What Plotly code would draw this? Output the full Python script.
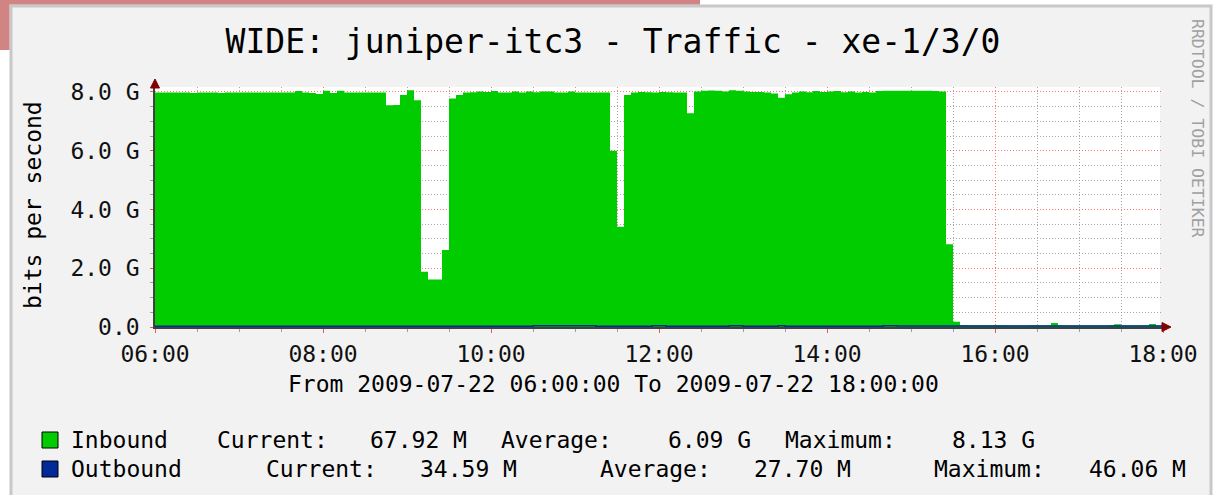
import plotly.graph_objects as go
import pandas as pd

# ---------------- data (Gbit/s, 5-minute steps from 06:00 to 18:00) ----------------
start_time = "2009-07-22 06:00"
end_time = "2009-07-22 18:00"
times = pd.date_range(start_time, end_time, freq="5min")

inbound = [
    7.98, 7.98, 7.98, 7.98, 7.98, 7.97, 7.98, 7.98, 7.98, 7.97,
    7.98, 7.98, 7.98, 7.98, 7.98, 7.98, 7.98, 7.98, 7.98, 7.98,
    8.03, 7.98, 7.97, 7.93, 8.04, 7.97, 8.04, 7.98, 7.98, 7.98,
    7.98, 7.98, 7.98, 7.55, 7.56, 7.90, 8.06, 7.72, 1.88, 1.62,
    1.62, 2.62, 7.78, 7.90, 7.98, 7.99, 8.02, 8.00, 8.03, 7.98,
    7.98, 8.02, 7.98, 8.02, 7.99, 8.02, 8.02, 7.98, 7.98, 8.02,
    7.98, 7.98, 7.98, 7.98, 7.98, 6.00, 3.41, 7.90, 7.98, 8.00,
    7.99, 7.98, 8.00, 7.99, 7.98, 7.98, 7.28, 8.02, 8.04, 8.05,
    8.04, 8.02, 8.06, 8.04, 8.02, 8.00, 8.00, 7.98, 7.95, 7.80,
    7.92, 7.98, 8.02, 7.99, 8.03, 8.00, 8.02, 8.03, 7.99, 8.02,
    7.98, 8.00, 7.98, 8.03, 8.04, 8.04, 8.04, 8.04, 8.04, 8.04,
    8.04, 8.03, 8.02, 2.82, 0.18, 0.07, 0.06, 0.06, 0.06, 0.06,
    0.06, 0.06, 0.05, 0.05, 0.05, 0.06, 0.06, 0.06, 0.14, 0.06,
    0.05, 0.05, 0.05, 0.05, 0.05, 0.05, 0.06, 0.09, 0.05, 0.05,
    0.05, 0.05, 0.10, 0.05, 0.07,
]

outbound = [
    0.025, 0.025, 0.025, 0.025, 0.025, 0.025, 0.025, 0.025, 0.025, 0.025,
    0.025, 0.025, 0.025, 0.025, 0.025, 0.025, 0.025, 0.025, 0.025, 0.025,
    0.025, 0.025, 0.025, 0.025, 0.025, 0.025, 0.025, 0.025, 0.025, 0.025,
    0.025, 0.025, 0.025, 0.025, 0.025, 0.025, 0.025, 0.025, 0.025, 0.025,
    0.025, 0.025, 0.025, 0.025, 0.025, 0.025, 0.025, 0.025, 0.025, 0.025,
    0.025, 0.025, 0.025, 0.025, 0.045, 0.046, 0.045, 0.045, 0.046, 0.045,
    0.045, 0.045, 0.045, 0.027, 0.027, 0.027, 0.027, 0.027, 0.027, 0.027,
    0.027, 0.045, 0.045, 0.027, 0.027, 0.027, 0.027, 0.027, 0.027, 0.027,
    0.027, 0.027, 0.045, 0.045, 0.027, 0.027, 0.027, 0.027, 0.027, 0.040,
    0.027, 0.027, 0.027, 0.027, 0.027, 0.027, 0.027, 0.027, 0.027, 0.027,
    0.027, 0.027, 0.027, 0.027, 0.045, 0.045, 0.030, 0.030, 0.030, 0.030,
    0.030, 0.030, 0.030, 0.030, 0.030, 0.035, 0.035, 0.035, 0.035, 0.035,
    0.035, 0.035, 0.035, 0.035, 0.035, 0.035, 0.035, 0.036, 0.036, 0.035,
    0.035, 0.035, 0.035, 0.035, 0.035, 0.035, 0.035, 0.035, 0.035, 0.035,
    0.035, 0.035, 0.035, 0.035, 0.035,
]

y_tick_vals = [0, 2, 4, 6, 8]
y_tick_text = ["0.0", "2.0 G", "4.0 G", "6.0 G", "8.0 G"]

title_text = "WIDE: juniper-itc3 - Traffic - xe-1/3/0"
x_title_text = "From 2009-07-22 06:00:00 To 2009-07-22 18:00:00"
y_title_text = "bits per second"
side_text = "RRDTOOL / TOBI OETIKER"

legend_rows = [
    ("Inbound", "#00CC00", [("Inbound", 71), ("Current:", 217), ("67.92 M", 370),
                            ("Average:", 501), ("6.09 G", 668), ("Maximum:", 785), ("8.13 G", 952)]),
    ("Outbound", "#002A97", [("Outbound", 71), ("Current:", 266), ("34.59 M", 420),
                             ("Average:", 600), ("27.70 M", 754), ("Maximum:", 934), ("46.06 M", 1089)]),
]

# ---------------- layout geometry ----------------
W, H = 1214, 495
L, R, T, B = 155, W - 1163, 87, H - 327
PW, PH = W - L - R, H - T - B
Y_MAX = 8.17


def px(p):
    return (p - L) / PW


def py(p):
    return (H - B - p) / PH


FONT = "DejaVu Sans Mono"
MAJOR_GRID = "rgba(255,40,40,0.65)"
MINOR_GRID = "rgba(130,130,130,0.7)"
DASH = "1px,2px"

fig = go.Figure()
fig.add_trace(go.Scatter(
    x=times, y=inbound, name="Inbound", mode="lines", line_shape="hv",
    line=dict(width=0, color="#00CC00"), fill="tozeroy", fillcolor="#00CC00",
    hoverinfo="skip",
))
fig.add_trace(go.Scatter(
    x=times, y=outbound, name="Outbound", mode="lines", line_shape="hv",
    line=dict(width=1.5, color="#002A97"), hoverinfo="skip",
))

shapes = []
# panel background & frame
shapes.append(dict(type="rect", xref="paper", yref="paper", layer="below",
                   x0=px(11), x1=px(1211), y0=py(6), y1=py(500),
                   fillcolor="#F2F2F2", line=dict(color="#C8C8C8", width=3)))
# decorative pink fragments
shapes.append(dict(type="rect", xref="paper", yref="paper", layer="below",
                   x0=px(0), x1=px(700), y0=py(0), y1=py(4.5),
                   fillcolor="#D08484", line=dict(width=0)))
shapes.append(dict(type="rect", xref="paper", yref="paper", layer="below",
                   x0=px(0), x1=px(9.5), y0=py(0), y1=py(50),
                   fillcolor="#D08484", line=dict(width=0)))
# white canvas
shapes.append(dict(type="rect", xref="paper", yref="paper", layer="below",
                   x0=px(155), x1=px(1160), y0=py(87), y1=py(327),
                   fillcolor="#FFFFFF", line=dict(width=0)))
# axis arrows
shapes.append(dict(type="path", xref="paper", yref="paper",
                   path=f"M {px(1162)} {py(322.5)} L {px(1171)} {py(327)} L {px(1162)} {py(331.5)} Z",
                   fillcolor="#7F0000", line=dict(color="#7F0000", width=1)))
shapes.append(dict(type="path", xref="paper", yref="paper",
                   path=f"M {px(150.5)} {py(88)} L {px(155)} {py(79)} L {px(159.5)} {py(88)} Z",
                   fillcolor="#7F0000", line=dict(color="#7F0000", width=1)))
# legend swatches
for i, (_, col, _) in enumerate(legend_rows):
    yc = 440 + 29 * i
    shapes.append(dict(type="rect", xref="paper", yref="paper",
                       x0=px(42), x1=px(58), y0=py(yc - 8), y1=py(yc + 8),
                       fillcolor=col, line=dict(color="#000000", width=1)))

annotations = []
annotations.append(dict(text=x_title_text, xref="paper", yref="paper",
                        x=px(613), y=py(384), showarrow=False,
                        font=dict(family=FONT, size=23, color="#000000"),
                        xanchor="center", yanchor="middle"))
annotations.append(dict(text=y_title_text, xref="paper", yref="paper",
                        x=px(33), y=py(205), showarrow=False, textangle=-90,
                        font=dict(family=FONT, size=23, color="#000000"),
                        xanchor="center", yanchor="middle"))
annotations.append(dict(text=side_text, xref="paper", yref="paper",
                        x=px(1197), y=py(128), showarrow=False, textangle=90,
                        font=dict(family=FONT, size=16.5, color="#A0A0A0"),
                        xanchor="center", yanchor="middle"))
for i, (_, _, items) in enumerate(legend_rows):
    yc = 440 + 29 * i
    for txt, xpos in items:
        annotations.append(dict(text=txt, xref="paper", yref="paper",
                                x=px(xpos - 2), y=py(yc), showarrow=False,
                                font=dict(family=FONT, size=23, color="#000000"),
                                xanchor="left", yanchor="middle"))

fig.update_layout(
    width=W, height=H,
    margin=dict(l=L, r=R, t=T, b=B, pad=0),
    paper_bgcolor="#FFFFFF", plot_bgcolor="rgba(0,0,0,0)",
    showlegend=False,
    title=dict(text=title_text, x=613 / W, xanchor="center", xref="container",
               y=1 - 41 / H, yanchor="middle", yref="container",
               font=dict(family=FONT, size=33, color="#000000")),
    font=dict(family=FONT, size=23, color="#000000"),
    shapes=shapes, annotations=annotations,
)

fig.update_xaxes(
    type="date", range=[start_time, end_time],
    dtick=2 * 3600 * 1000, tick0=start_time, tickformat="%H:%M",
    showgrid=True, gridcolor=MAJOR_GRID, griddash=DASH, gridwidth=1,
    ticks="outside", ticklen=4, tickcolor="#E06060", tickwidth=1,
    minor=dict(dtick=30 * 60 * 1000, showgrid=True, gridcolor=MINOR_GRID,
               griddash=DASH, ticks="outside", ticklen=3, tickcolor="#A0A0A0"),
    showline=True, linecolor="#404040", linewidth=1.5,
    tickfont=dict(family=FONT, size=23, color="#111111"),
    ticklabelstandoff=2, zeroline=False, fixedrange=True,
)
fig.update_yaxes(
    range=[0, Y_MAX], tickvals=y_tick_vals, ticktext=y_tick_text,
    showgrid=True, gridcolor=MAJOR_GRID, griddash=DASH, gridwidth=1,
    ticks="outside", ticklen=3, tickcolor="#E06060", tickwidth=1,
    minor=dict(tickvals=[0.5, 1, 1.5, 2.5, 3, 3.5, 4.5, 5, 5.5, 6.5, 7, 7.5],
               showgrid=True, gridcolor=MINOR_GRID, griddash=DASH,
               ticks="outside", ticklen=3, tickcolor="#A0A0A0"),
    showline=True, linecolor="#404040", linewidth=1.5,
    tickfont=dict(family=FONT, size=23, color="#111111"),
    ticklabelstandoff=6, zeroline=False, fixedrange=True,
)

fig.write_html("out.html", config={"displayModeBar": False},
               post_script="document.body.style.margin='0px';document.body.style.padding='0px';")
